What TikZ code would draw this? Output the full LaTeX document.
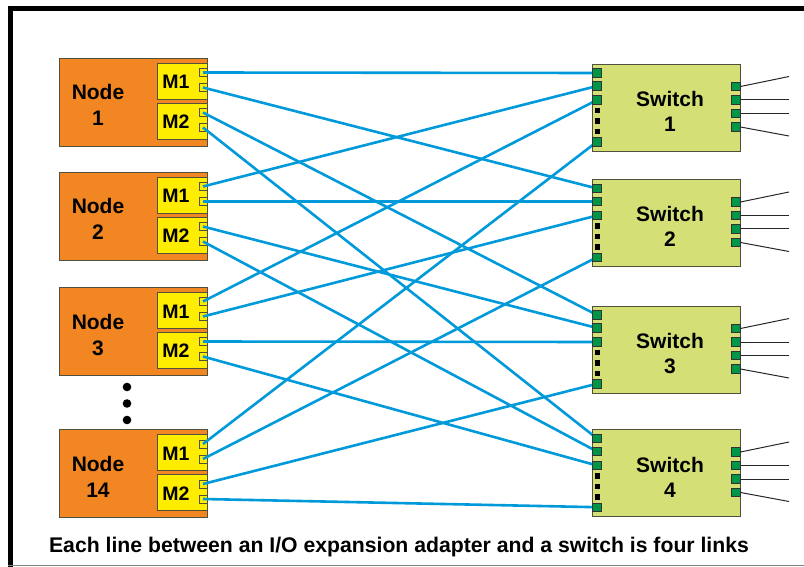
\documentclass[tikz,border=0pt]{standalone}
\usepackage{fontspec}
\setmainfont{Liberation Sans}
\definecolor{nodeorange}{RGB}{242,134,34}
\definecolor{myellow}{RGB}{255,237,0}
\definecolor{swfill}{RGB}{212,224,118}
\definecolor{portgreen}{RGB}{0,150,72}
\definecolor{linkblue}{RGB}{0,153,218}
\definecolor{edge}{RGB}{80,80,60}
\begin{document}
\begin{tikzpicture}[x=1pt,y=-1pt,
  nodebox/.style={draw=edge,line width=0.8pt,fill=nodeorange,anchor=north west,minimum width=148pt,minimum height=88pt,inner sep=0pt,outer sep=0pt},
  mbox/.style={draw=edge,line width=0.8pt,fill=myellow,anchor=north west,minimum width=50pt,minimum height=36pt,inner sep=0pt,outer sep=0pt},
  nport/.style={draw=edge,line width=0.8pt,fill=myellow,minimum width=8pt,minimum height=8pt,inner sep=0pt,outer sep=0pt},
  swbox/.style={draw=edge,line width=0.8pt,fill=swfill,anchor=north west,minimum width=148pt,minimum height=87pt,inner sep=0pt,outer sep=0pt},
  sport/.style={draw=black!80,line width=0.7pt,fill=portgreen,minimum width=9pt,minimum height=8.5pt,inner sep=0pt,outer sep=0pt},
  blk/.style={fill=black,minimum width=5pt,minimum height=5.5pt,inner sep=0pt,outer sep=0pt},
  dot/.style={circle,fill=black,minimum size=8.6pt,inner sep=0pt},
  lbl/.style={font=\bfseries\fontsize{21}{24}\selectfont,anchor=base,inner sep=0pt},
  caplbl/.style={font=\bfseries\fontsize{21.2}{24}\selectfont,anchor=base,inner sep=0pt},
  mlbl/.style={font=\bfseries\fontsize{19.5}{22}\selectfont,anchor=base,inner sep=0pt},
  link/.style={draw=linkblue,line width=2.6pt},
  outl/.style={draw=black!85,line width=1pt}
]
\useasboundingbox (0,0) rectangle (804,567);
% frame
\fill[black] (8,6) rectangle (804,11);
\fill[black] (8,6) rectangle (13,567);
\draw[gray,line width=1pt] (8,565.5) -- (804,565.5);

% compute nodes
\foreach \i/\T/\lab in {1/58/1,2/172/2,3/287/3,4/429.5/14}{
  \node[nodebox] (n\i) at (59,\T) {};
  \node[mbox] (m\i a) at (157,\T+5) {};
  \node[mbox] (m\i b) at (157,\T+45) {};
  \node[lbl] (nt\i) at (98,\T+42) {Node};
  \node[lbl] (nn\i) at (98,\T+68) {\lab};
  \node[mlbl] (mt\i a) at (176,\T+31) {M1};
  \node[mlbl] (mt\i b) at (176,\T+70.5) {M2};
  \node[nport] (np\i1) at (203,\T+14.5) {};
  \node[nport] (np\i2) at (203,\T+29.5) {};
  \node[nport] (np\i3) at (203,\T+54.5) {};
  \node[nport] (np\i4) at (203,\T+69.5) {};
}
\node[dot] (d1) at (127,387) {};
\node[dot] (d2) at (127,403.5) {};
\node[dot] (d3) at (127,420) {};

% switches
\foreach \j/\S in {1/64,2/179.5,3/306,4/429.5}{
  \node[swbox] (s\j) at (592,\S) {};
  \node[lbl] (st\j) at (670,\S+42.5) {Switch};
  \node[lbl] (sn\j) at (670,\S+67.5) {\j};
  \node[blk] (sb\j1) at (597.5,\S+46.5) {};
  \node[blk] (sb\j2) at (597.5,\S+57) {};
  \node[blk] (sb\j3) at (597.5,\S+67.5) {};
  \node[sport] (sr\j1) at (736,\S+22.5) {};
  \node[sport] (sr\j2) at (736,\S+36) {};
  \node[sport] (sr\j3) at (736,\S+49.5) {};
  \node[sport] (sr\j4) at (736,\S+63) {};
  \coordinate (se\j1) at (789,\S+12.5);
  \coordinate (se\j2) at (789,\S+36);
  \coordinate (se\j3) at (789,\S+49.5);
  \coordinate (se\j4) at (789,\S+72);
  \foreach \k in {1,...,4}{\draw[outl] (sr\j\k.east) -- (se\j\k);}
}

% switch input port positions
\foreach \j/\S in {1/64,2/179.5,3/306,4/429.5}{
  \coordinate (sq\j1) at (597,\S+9);
  \coordinate (sq\j2) at (597,\S+22);
  \coordinate (sq\j3) at (597,\S+36);
  \coordinate (sq\j4) at (597,\S+77.7);
}
% links: node i port j -> switch j port i
\foreach \i in {1,...,4}{
  \foreach \j in {1,...,4}{
    \draw[link] (np\i\j.center) -- (sq\j\i);
  }
}
\foreach \j in {1,...,4}{
  \foreach \k in {1,...,4}{
    \node[sport] (sp\j\k) at (sq\j\k) {};
  }
}

\node[caplbl] (cap) at (399,552) {Each line between an I/O expansion adapter and a switch is four links};
\end{tikzpicture}
\end{document}
